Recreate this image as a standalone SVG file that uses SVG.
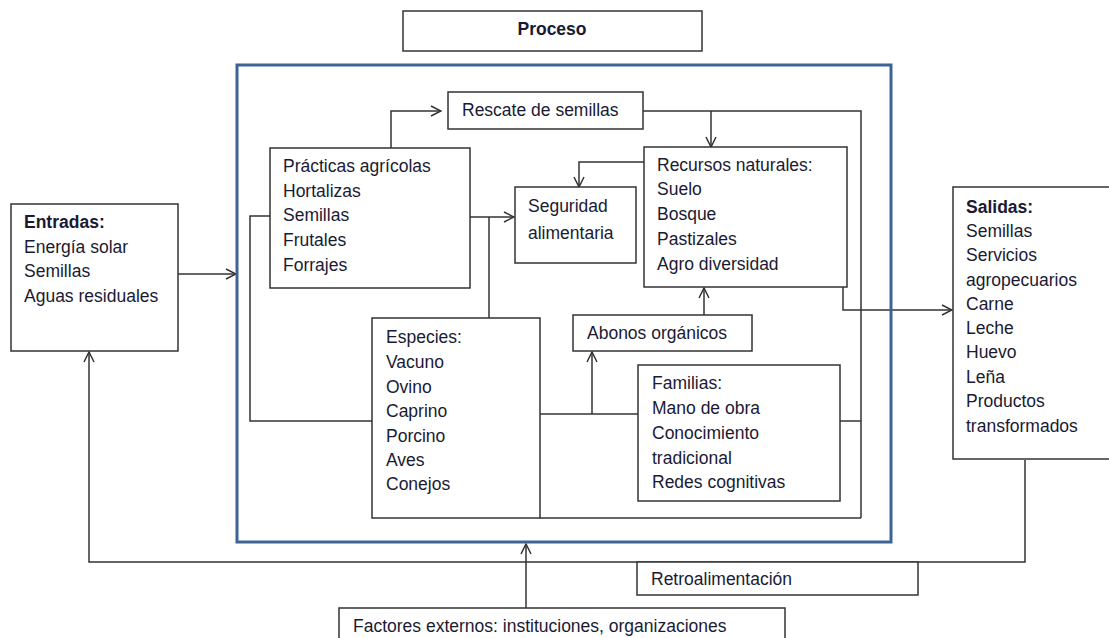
<svg xmlns="http://www.w3.org/2000/svg" width="1109" height="638" viewBox="0 0 1109 638">
<defs>
<marker id="arr" viewBox="0 0 12 12" refX="11" refY="6" markerWidth="12" markerHeight="12" markerUnits="userSpaceOnUse" orient="auto">
<path d="M1,1 L11,6 L1,11" fill="none" stroke="#333" stroke-width="1.5"/>
</marker>
<style>
.box{fill:#fff;stroke:#333;stroke-width:1.5}
.t{font-family:"Liberation Sans",Arial,sans-serif;font-size:17.5px;fill:#1a1a33}
.b{font-weight:bold}
.c{fill:none;stroke:#333;stroke-width:1.5}
.a{marker-end:url(#arr)}
</style>
</defs>
<rect width="1109" height="638" fill="#fff"/>
<g id="connectors">
<path class="c a" d="M178,274 H236"/>
<path class="c a" d="M391,148 V111 H441"/>
<path class="c a" d="M470,217 H514"/>
<path class="c" d="M489,217 V318"/>
<path class="c" d="M643,111 H861 V518"/>
<path class="c a" d="M711,111 V147"/>
<path class="c a" d="M644,162 H579 V187"/>
<path class="c a" d="M843,287 V310 H952"/>
<path class="c a" d="M704,315 V288"/>
<path class="c" d="M540,414 H638"/>
<path class="c a" d="M592,414 V352"/>
<path class="c" d="M840,421 H861"/>
<path class="c" d="M540,518 H861"/>
<path class="c" d="M270,216 H250 V421 H372"/>
<path class="c a" d="M1025,460 V562 H89 V352"/>
<path class="c a" d="M526,608 V544"/>
</g>
<g id="proceso">
<rect class="box" x="403" y="11" width="299" height="40"/>
<text class="t b" x="552" y="35" text-anchor="middle">Proceso</text>
</g>
<g id="frame">
<rect x="237" y="65" width="654" height="477" fill="none" stroke="#3E6496" stroke-width="3"/>
</g>
<g id="rescate">
<rect class="box" x="448" y="92" width="195" height="37"/>
<text class="t" x="462" y="116">Rescate de semillas</text>
</g>
<g id="practicas">
<rect class="box" x="270" y="148" width="200" height="140"/>
<text class="t" x="283"><tspan x="283" y="172">Prácticas agrícolas</tspan><tspan x="283" y="197">Hortalizas</tspan><tspan x="283" y="221">Semillas</tspan><tspan x="283" y="246">Frutales</tspan><tspan x="283" y="271">Forrajes</tspan></text>
</g>
<g id="seguridad">
<rect class="box" x="515" y="187" width="121" height="76"/>
<text class="t"><tspan x="528" y="212">Seguridad</tspan><tspan x="528" y="239">alimentaria</tspan></text>
</g>
<g id="recursos">
<rect class="box" x="644" y="147" width="203" height="140"/>
<text class="t"><tspan x="657" y="171">Recursos naturales:</tspan><tspan x="657" y="195">Suelo</tspan><tspan x="657" y="220">Bosque</tspan><tspan x="657" y="245">Pastizales</tspan><tspan x="657" y="270">Agro diversidad</tspan></text>
</g>
<g id="abonos">
<rect class="box" x="573" y="315" width="179" height="36"/>
<text class="t" x="587" y="339">Abonos orgánicos</text>
</g>
<g id="especies">
<rect class="box" x="372" y="318" width="168" height="200"/>
<text class="t"><tspan x="386" y="343">Especies:</tspan><tspan x="386" y="368">Vacuno</tspan><tspan x="386" y="393">Ovino</tspan><tspan x="386" y="417">Caprino</tspan><tspan x="386" y="442">Porcino</tspan><tspan x="386" y="466">Aves</tspan><tspan x="386" y="490">Conejos</tspan></text>
</g>
<g id="familias">
<rect class="box" x="638" y="365" width="202" height="136"/>
<text class="t"><tspan x="652" y="389">Familias:</tspan><tspan x="652" y="414">Mano de obra</tspan><tspan x="652" y="439">Conocimiento</tspan><tspan x="652" y="464">tradicional</tspan><tspan x="652" y="488">Redes cognitivas</tspan></text>
</g>
<g id="entradas">
<rect class="box" x="11" y="204" width="167" height="147"/>
<text class="t"><tspan class="b" x="24" y="228">Entradas:</tspan><tspan x="24" y="253">Energía solar</tspan><tspan x="24" y="277">Semillas</tspan><tspan x="24" y="302">Aguas residuales</tspan></text>
</g>
<g id="salidas">
<rect class="box" x="953" y="187" width="170" height="272"/>
<text class="t"><tspan class="b" x="966" y="213">Salidas:</tspan><tspan x="966" y="237">Semillas</tspan><tspan x="966" y="261">Servicios</tspan><tspan x="966" y="286">agropecuarios</tspan><tspan x="966" y="310">Carne</tspan><tspan x="966" y="334">Leche</tspan><tspan x="966" y="358">Huevo</tspan><tspan x="966" y="383">Leña</tspan><tspan x="966" y="407">Productos</tspan><tspan x="966" y="432">transformados</tspan></text>
</g>
<g id="retro">
<rect class="box" x="637" y="562" width="281" height="33"/>
<text class="t" x="651" y="585">Retroalimentación</text>
</g>
<g id="factores">
<rect class="box" x="339" y="608" width="446" height="40"/>
<text class="t" x="353" y="632">Factores externos: instituciones, organizaciones</text>
</g>
</svg>
